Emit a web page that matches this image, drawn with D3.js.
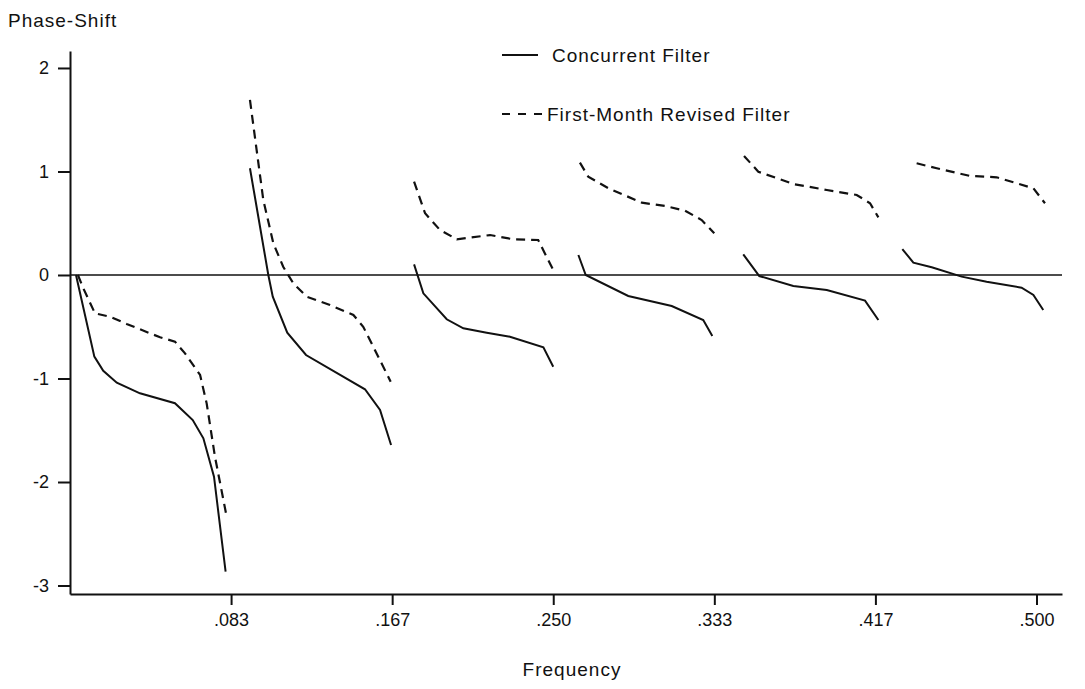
<!DOCTYPE html>
<html>
<head>
<meta charset="utf-8">
<script src="https://cdn.jsdelivr.net/npm/d3@7"></script>
<style>
  body { margin: 0; background: #ffffff; }
  text { font-family: "Liberation Sans", Arial, Helvetica, sans-serif; fill: #111; }
</style>
</head>
<body>
<div id="chart"></div>
<script>
// values: [frequency, phase-shift], one array per piece between seasonal frequencies
const concurrentSegments = [
  [[0.0031, 0], [0.0126, -0.789], [0.0172, -0.925], [0.0242, -1.041], [0.0362, -1.143], [0.0543, -1.239],
   [0.0635, -1.401], [0.0690, -1.578], [0.0745, -1.949], [0.0805, -2.867]],
  [[0.0931, 1.031], [0.1026, 0], [0.1049, -0.210], [0.1124, -0.557], [0.1221, -0.773], [0.1526, -1.104],
   [0.1604, -1.304], [0.1661, -1.643]],
  [[0.1780, 0.103], [0.1828, -0.177], [0.1949, -0.428], [0.2035, -0.515], [0.2156, -0.557], [0.2276, -0.596],
   [0.2449, -0.699], [0.2500, -0.886]],
  [[0.2630, 0.193], [0.2668, 0], [0.2888, -0.203], [0.3113, -0.300], [0.3276, -0.435], [0.3323, -0.589]],
  [[0.3483, 0.200], [0.3566, -0.010], [0.3742, -0.106], [0.3915, -0.145], [0.4113, -0.248], [0.4182, -0.435]],
  [[0.4306, 0.251], [0.4363, 0.119], [0.4458, 0.074], [0.4613, -0.016], [0.4742, -0.065], [0.4923, -0.123],
   [0.4984, -0.193], [0.5035, -0.338]]
];

const revisedSegments = [
  [[0.0041, 0], [0.0069, -0.129], [0.0129, -0.370], [0.0207, -0.403], [0.0293, -0.473], [0.0466, -0.602],
   [0.0543, -0.644], [0.0595, -0.757], [0.0673, -0.966], [0.0707, -1.240], [0.0750, -1.756], [0.0807, -2.302]],
  [[0.0931, 1.691], [0.1000, 0.725], [0.1052, 0.306], [0.1103, 0.080], [0.1155, -0.080], [0.1225, -0.210],
   [0.1345, -0.290], [0.1466, -0.386], [0.1517, -0.500], [0.1569, -0.693], [0.1659, -1.031]],
  [[0.1780, 0.901], [0.1837, 0.596], [0.1914, 0.435], [0.2001, 0.345], [0.2173, 0.386], [0.2293, 0.345],
   [0.2422, 0.338], [0.2500, 0.048]],
  [[0.2638, 1.085], [0.2681, 0.950], [0.2785, 0.838], [0.2958, 0.699], [0.3078, 0.667], [0.3182, 0.621],
   [0.3268, 0.531], [0.3333, 0.403]],
  [[0.3487, 1.150], [0.3561, 0.998], [0.3742, 0.879], [0.3915, 0.821], [0.4070, 0.773], [0.4139, 0.693],
   [0.4182, 0.557]],
  [[0.4380, 1.079], [0.4484, 1.031], [0.4656, 0.957], [0.4794, 0.944], [0.4984, 0.838], [0.5044, 0.693]]
];

const xTickValues = [1 / 12, 2 / 12, 3 / 12, 4 / 12, 5 / 12, 6 / 12];
const xTickLabels = [".083", ".167", ".250", ".333", ".417", ".500"];
const yTickValues = [-3, -2, -1, 0, 1, 2];
const yTickLabels = ["-3", "-2", "-1", "0", "1", "2"];

const legendNames = ["Concurrent Filter", "First-Month Revised Filter"];

const WIDTH = 1085;
const HEIGHT = 689;

const OFFSET_TOP = 51;
const OFFSET_BOTTOM = 95;
const OFFSET_LEFT = 70;
const OFFSET_RIGHT = 23;

const X_MAX = 0.5132;
const Y_MIN = -3.082;
const Y_MAX = 2.164;

const DASH = "9,6";

function setCanvas() {
  return d3.select("#chart")
    .append("svg")
    .attr("width", WIDTH)
    .attr("height", HEIGHT)
    .style("background-color", "#ffffff");
}

function setScales() {
  let xScale = d3.scaleLinear()
    .domain([0, X_MAX])
    .range([OFFSET_LEFT, WIDTH - OFFSET_RIGHT]);

  let yScale = d3.scaleLinear()
    .domain([Y_MIN, Y_MAX])
    .range([HEIGHT - OFFSET_BOTTOM, OFFSET_TOP]);

  return { xScale: xScale, yScale: yScale };
}

function setAxisToCanvas(canvas, scales) {
  let xAxis = d3.axisBottom(scales.xScale)
    .tickValues(xTickValues)
    .tickFormat((d, i) => xTickLabels[i])
    .tickSizeInner(11)
    .tickSizeOuter(0)
    .tickPadding(8);

  let yAxis = d3.axisLeft(scales.yScale)
    .tickValues(yTickValues)
    .tickFormat((d, i) => yTickLabels[i])
    .tickSizeInner(12)
    .tickSizeOuter(0)
    .tickPadding(9);

  let gx = canvas.append("g")
    .attr("transform", "translate(0," + (HEIGHT - OFFSET_BOTTOM) + ")")
    .call(xAxis);

  let gy = canvas.append("g")
    .attr("transform", "translate(" + OFFSET_LEFT + ",0)")
    .call(yAxis);

  [gx, gy].forEach(g => {
    g.select(".domain").attr("stroke", "#111").attr("stroke-width", 2);
    g.selectAll(".tick line").attr("stroke", "#111").attr("stroke-width", 2);
    g.selectAll(".tick text")
      .style("font-family", "'Liberation Sans', Arial, sans-serif")
      .style("font-size", "18px")
      .attr("fill", "#111");
  });

  // titles
  canvas.append("text")
    .attr("x", 8)
    .attr("y", 27)
    .style("font-size", "19px")
    .style("letter-spacing", "1px")
    .text("Phase-Shift");

  canvas.append("text")
    .attr("x", 572)
    .attr("y", 676)
    .style("font-size", "19px")
    .style("letter-spacing", "1px")
    .style("text-anchor", "middle")
    .text("Frequency");
}

function drawZeroLine(canvas, scales) {
  canvas.append("line")
    .attr("x1", scales.xScale(0))
    .attr("x2", scales.xScale(X_MAX))
    .attr("y1", scales.yScale(0))
    .attr("y2", scales.yScale(0))
    .attr("stroke", "#111")
    .attr("stroke-width", 1.5);
}

function drawLines(canvas, scales) {
  let line = d3.line()
    .x(d => scales.xScale(d[0]))
    .y(d => scales.yScale(d[1]));

  canvas.append("g")
    .selectAll("path")
    .data(concurrentSegments)
    .enter()
    .append("path")
    .attr("d", line)
    .attr("fill", "none")
    .attr("stroke", "#111")
    .attr("stroke-width", 2);

  canvas.append("g")
    .selectAll("path")
    .data(revisedSegments)
    .enter()
    .append("path")
    .attr("d", line)
    .attr("fill", "none")
    .attr("stroke", "#111")
    .attr("stroke-width", 2.2)
    .attr("stroke-dasharray", DASH);
}

function drawLegend(canvas) {
  let legend = canvas.append("g").attr("transform", "translate(502,55)");

  legend.selectAll("line")
    .data(legendNames)
    .enter()
    .append("line")
    .attr("x1", 0)
    .attr("x2", (d, i) => i == 0 ? 36 : 40)
    .attr("y1", (d, i) => i * 59)
    .attr("y2", (d, i) => i * 59)
    .attr("stroke", "#111")
    .attr("stroke-width", 2)
    .attr("stroke-dasharray", (d, i) => i == 0 ? null : "8,8");

  legend.selectAll("text")
    .data(legendNames)
    .enter()
    .append("text")
    .attr("x", (d, i) => i == 0 ? 50 : 45)
    .attr("y", (d, i) => i * 59 + 7)
    .style("font-size", "19px")
    .style("letter-spacing", "1px")
    .text(d => d);
}

let canvas = setCanvas();
let scales = setScales();
drawZeroLine(canvas, scales);
setAxisToCanvas(canvas, scales);
drawLines(canvas, scales);
drawLegend(canvas);
</script>
</body>
</html>
